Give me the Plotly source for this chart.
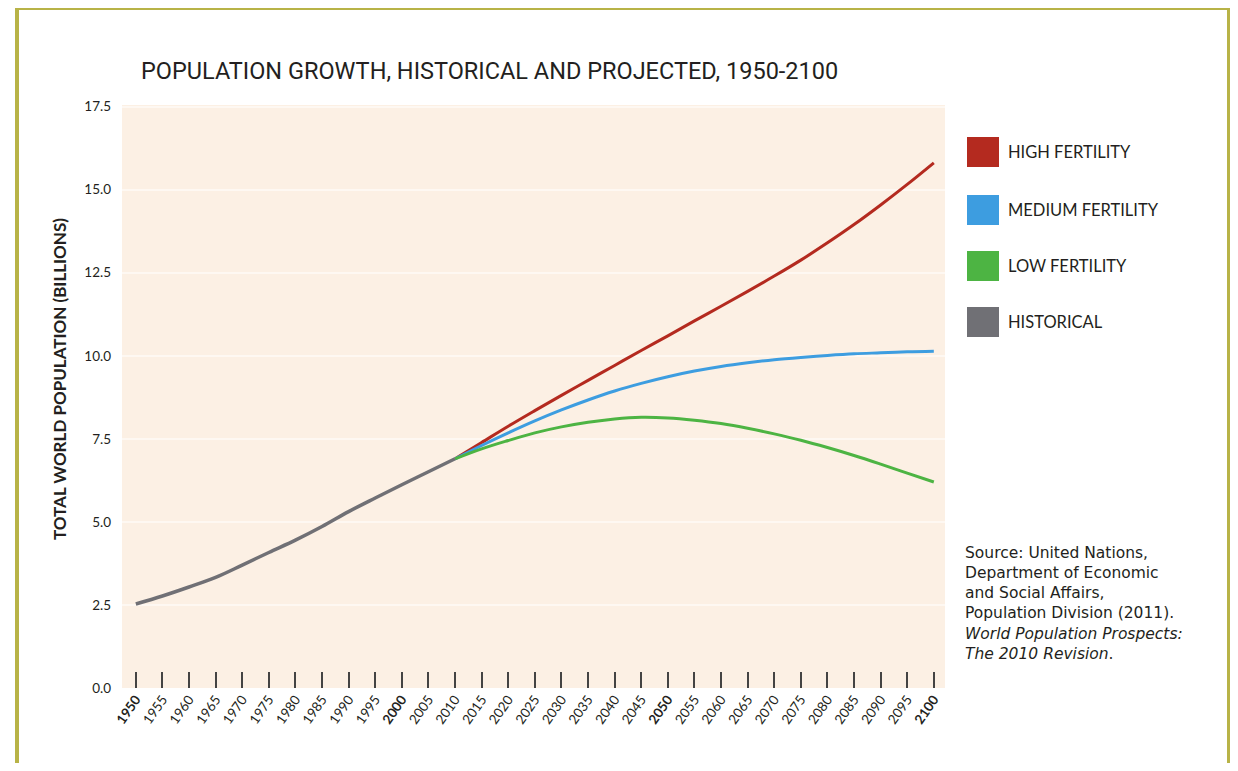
import plotly.graph_objects as go

years_hist = [1950, 1955, 1960, 1965, 1970, 1975, 1980, 1985, 1990, 1995, 2000, 2005, 2010]
historical = [2.53, 2.77, 3.04, 3.33, 3.70, 4.08, 4.45, 4.86, 5.31, 5.72, 6.12, 6.51, 6.90]

years_proj = [2010, 2015, 2020, 2025, 2030, 2035, 2040, 2045, 2050, 2055, 2060,
              2065, 2070, 2075, 2080, 2085, 2090, 2095, 2100]
high_fert = [6.90, 7.39, 7.88, 8.35, 8.81, 9.26, 9.71, 10.16, 10.60, 11.05, 11.49,
             11.94, 12.40, 12.88, 13.40, 13.95, 14.54, 15.16, 15.81]
medium_fert = [6.90, 7.30, 7.68, 8.04, 8.37, 8.67, 8.94, 9.17, 9.37, 9.54, 9.68,
               9.79, 9.88, 9.95, 10.01, 10.06, 10.09, 10.12, 10.14]
low_fert = [6.90, 7.20, 7.45, 7.68, 7.86, 8.00, 8.10, 8.15, 8.13, 8.06, 7.96,
            7.82, 7.65, 7.46, 7.24, 7.00, 6.74, 6.47, 6.20]

tick_years = list(range(1950, 2101, 5))
tick_labels = [f"<b>{y}</b>" if y % 50 == 0 else str(y) for y in tick_years]
y_ticks = [0.0, 2.5, 5.0, 7.5, 10.0, 12.5, 15.0, 17.5]

legend_names = ["HIGH FERTILITY", "MEDIUM FERTILITY", "LOW FERTILITY", "HISTORICAL"]
legend_colors = ["#b42a1f", "#3d9de0", "#4db443", "#707075"]

fig = go.Figure()
fig.add_trace(go.Scatter(x=years_proj, y=high_fert, mode="lines", line=dict(color=legend_colors[0], width=3, shape="spline"), name=legend_names[0]))
fig.add_trace(go.Scatter(x=years_proj, y=medium_fert, mode="lines", line=dict(color=legend_colors[1], width=3, shape="spline"), name=legend_names[1]))
fig.add_trace(go.Scatter(x=years_proj, y=low_fert, mode="lines", line=dict(color=legend_colors[2], width=3, shape="spline"), name=legend_names[2]))
fig.add_trace(go.Scatter(x=years_hist, y=historical, mode="lines", line=dict(color=legend_colors[3], width=3.5, shape="spline"), name=legend_names[3]))

OFF = 8  # page body margin
W, H = 1222, 755
ml, mr, mt, mb = 114, 285, 97, 75
pw, ph = W - ml - mr, H - mt - mb

def px_x(x):
    return (x - OFF - ml) / pw

def px_y(y):
    return (H - mb - (y - OFF)) / ph

shapes = []
annotations = []
shapes.append(dict(type="rect", xref="paper", yref="paper",
                   x0=px_x(17), x1=px_x(1229), y0=px_y(H + 40), y1=px_y(8),
                   line=dict(color="#b8b347", width=4), layer="below"))
legend_centers = [152, 210, 266, 322]
for name, color, cy in zip(legend_names, legend_colors, legend_centers):
    shapes.append(dict(type="rect", xref="paper", yref="paper",
                       x0=px_x(967), x1=px_x(999), y0=px_y(cy + 15), y1=px_y(cy - 15),
                       fillcolor=color, line=dict(width=0)))
    annotations.append(dict(xref="paper", yref="paper", x=px_x(1006), y=px_y(cy),
                            xanchor="left", yanchor="middle", showarrow=False,
                            text=name, font=dict(family="Lato", size=16.5, color="#231f20")))

annotations.append(dict(xref="paper", yref="paper", x=px_x(963), y=px_y(542),
                        xanchor="left", yanchor="top", showarrow=False, align="left",
                        text=("Source: United Nations,<br>Department of Economic<br>"
                              "and Social Affairs,<br>Population Division (2011).<br>"
                              "<i>World Population Prospects:</i><br><i>The 2010 Revision</i>."),
                        font=dict(family="DejaVu Sans", size=15.5, color="#231f20")))

annotations.append(dict(xref="paper", yref="paper", x=px_x(139), y=px_y(71),
                        xanchor="left", yanchor="middle", showarrow=False,
                        text="POPULATION GROWTH, HISTORICAL AND PROJECTED, 1950-2100",
                        font=dict(family="Roboto", size=23.5, color="#231f20")))

annotations.append(dict(xref="paper", yref="paper", x=px_x(59), y=px_y(379),
                        xanchor="center", yanchor="middle", showarrow=False, textangle=-90,
                        text="<b>TOTAL WORLD POPULATION (BILLIONS)</b>",
                        font=dict(family="Lato", size=17, color="#231f20")))

fig.update_layout(
    width=W, height=H,
    margin=dict(l=ml, r=mr, t=mt, b=mb),
    paper_bgcolor="white",
    plot_bgcolor="#fcf0e4",
    showlegend=False,
    shapes=shapes,
    annotations=annotations,
    font=dict(family="Lato", color="#231f20"),
)
fig.update_xaxes(range=[1947.4, 2102.1], tickmode="array", tickvals=tick_years, ticktext=tick_labels,
                 tickangle=-55, ticks="inside", ticklen=16, tickwidth=1.5, tickcolor="#444",
                 showgrid=False, zeroline=False, showline=False,
                 tickfont=dict(family="Lato", size=13.5, color="#231f20"))
fig.update_yaxes(range=[0, 17.55], tickmode="array", tickvals=y_ticks,
                 ticktext=[f"{v:.1f}" for v in y_ticks], ticks="", ticklabelstandoff=10,
                 showgrid=True, gridcolor="rgba(255,255,255,0.5)", gridwidth=1.5,
                 zeroline=False, showline=False,
                 tickfont=dict(family="Lato", size=13.5, color="#231f20"))

fig.write_html("out.html")
